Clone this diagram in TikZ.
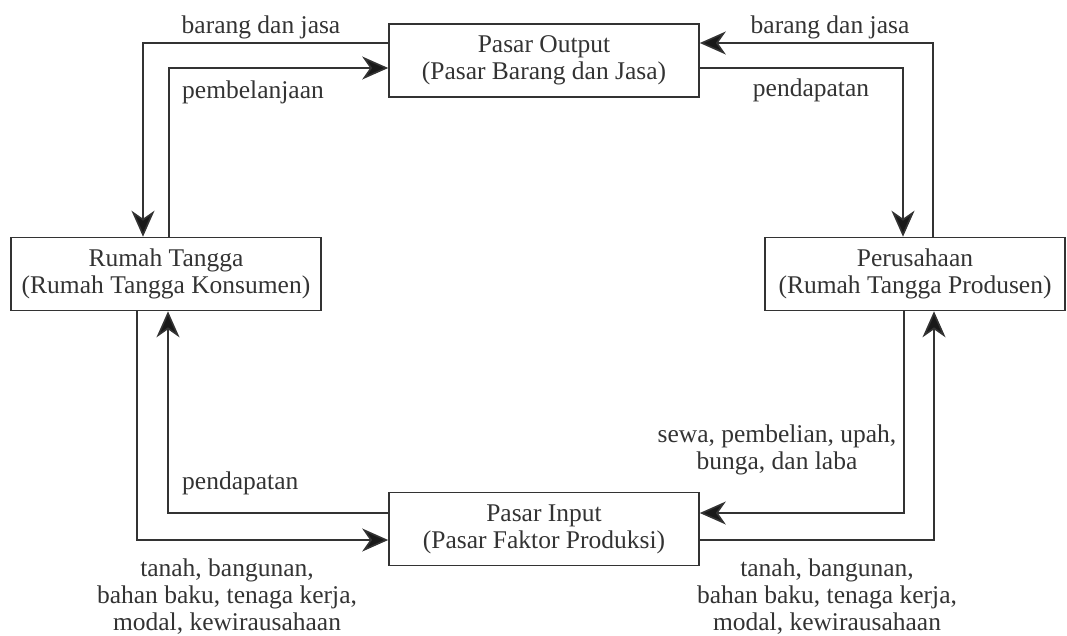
\documentclass[tikz,border=0pt]{standalone}
\usepackage{fontspec}
\setmainfont{Liberation Serif}
\usetikzlibrary{arrows.meta}
\tikzset{
    pasar/.style={draw=black!80,line width=1.6pt,minimum width=310pt,minimum height=73pt,align=center,text=black!80},
    flow/.style={draw=black!80,line width=1.6pt,-{Stealth[length=26pt,width=23pt,inset=8pt,fill=black!90]}},
    ket/.style={align=center,text=black!80,inner sep=0pt},
}

\begin{document}
\begin{tikzpicture}[x=1pt,y=-1pt,font=\fontsize{25.5}{27}\selectfont]
\useasboundingbox (0,0) rectangle (1067,635);
\node[pasar] (out) at (544,60.5) {Pasar Output\\(Pasar Barang dan Jasa)};
\node[pasar] (inp) at (544,529) {Pasar Input\\(Pasar Faktor Produksi)};
\node[pasar] (rt) at (166,274) {Rumah Tangga\\(Rumah Tangga Konsumen)};
\node[pasar,minimum width=300pt] (per) at (915,274) {Perusahaan\\(Rumah Tangga Produsen)};
% atas
\draw[flow] ([yshift=17.5pt]out.west) -| ([xshift=-23pt]rt.north);
\draw[flow] ([xshift=3pt]rt.north) |- ([yshift=-7.5pt]out.west);
\draw[flow] ([xshift=18pt]per.north) |- ([yshift=17.5pt]out.east);
\draw[flow] ([yshift=-7.5pt]out.east) -| ([xshift=-12pt]per.north);
% bawah
\draw[flow] ([xshift=-29pt]rt.south) |- ([yshift=-11pt]inp.west);
\draw[flow] ([yshift=16pt]inp.west) -| ([xshift=2pt]rt.south);
\draw[flow] ([xshift=-11pt]per.south) |- ([yshift=16pt]inp.east);
\draw[flow] ([yshift=-11pt]inp.east) -| ([xshift=19pt]per.south);
% keterangan
\node[ket] (bjkiri) at (261,27) {barang dan jasa};
\node[ket,anchor=west] (belanja) at (182,92) {pembelanjaan};
\node[ket] (bjkanan) at (830,27) {barang dan jasa};
\node[ket] (dapatatas) at (811,90) {pendapatan};
\node[ket,anchor=west] (dapatbawah) at (182,483) {pendapatan};
\node[ket] (sewa) at (777,450) {sewa, pembelian, upah,\\bunga, dan laba};
\node[ket] (faktorkiri) at (227,597) {tanah, bangunan,\\bahan baku, tenaga kerja,\\modal, kewirausahaan};
\node[ket] (faktorkanan) at (827,597) {tanah, bangunan,\\bahan baku, tenaga kerja,\\modal, kewirausahaan};
\end{tikzpicture}
\end{document}
